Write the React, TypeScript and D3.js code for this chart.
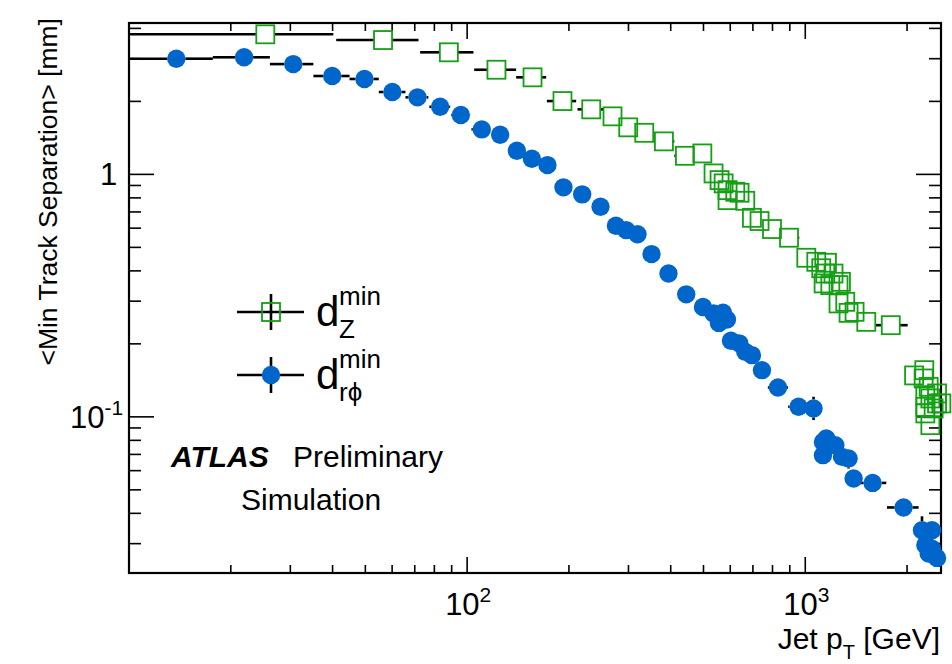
import React from "react";
import * as d3 from "d3";

// ---- d_rphi^min (blue filled circles) ----
const rphiPt = [13.8, 21.9, 30.6, 39.9, 49.7, 60.1, 71.3, 83.2, 95.8, 110.5, 125.2, 140.3, 155.4, 172.8, 192.7, 218.9, 248.0, 275.4, 295.3, 319.0, 351.0, 394.0, 444.6, 498.2, 535.5, 570.9, 586.7, 555.4, 602.9, 637.9, 664.5, 695.5, 744.6, 830.2, 955.4, 1058, 1128, 1154, 1128, 1227, 1284, 1343, 1390, 1582, 1953, 2214, 2371, 2265, 2371, 2453, 2317];
const rphiVal = [3.0, 3.04, 2.85, 2.545, 2.474, 2.186, 2.078, 1.9, 1.757, 1.533, 1.457, 1.251, 1.16, 1.092, 0.884, 0.827, 0.735, 0.614, 0.589, 0.566, 0.469, 0.39, 0.32, 0.284, 0.267, 0.269, 0.252, 0.244, 0.206, 0.201, 0.1854, 0.1797, 0.1558, 0.1322, 0.11, 0.1083, 0.0788, 0.0814, 0.0695, 0.0764, 0.0684, 0.0674, 0.0557, 0.0534, 0.0423, 0.0341, 0.0341, 0.0296, 0.0286, 0.0262, 0.0273];
const rphiPtLo = [10.0, 17.7, 26.1, 35.1, 44.9, 54.8, 65.7, 77.3, 89.7, 103, 125.2, 140.3, 155.4, 172.8, 192.7, 206, 248.0, 275.4, 295.3, 319.0, 351.0, 394.0, 444.6, 498.2, 535.5, 570.9, 586.7, 555.4, 602.9, 637.9, 664.5, 695.5, 744.6, 775, 890, 1058, 1128, 1154, 1128, 1227, 1284, 1343, 1390, 1438, 1744, 2214, 2371, 2265, 2371, 2453, 2317];
const rphiPtHi = [17.7, 26.1, 35.1, 44.9, 54.8, 65.7, 76.8, 89.1, 102, 117, 125.2, 140.3, 155.4, 172.8, 192.7, 218.9, 248.0, 275.4, 295.3, 319.0, 351.0, 394.0, 444.6, 498.2, 535.5, 570.9, 586.7, 555.4, 602.9, 637.9, 664.5, 695.5, 744.6, 889, 955.4, 1058, 1128, 1154, 1128, 1227, 1284, 1343, 1390, 1736, 2164, 2214, 2371, 2265, 2371, 2453, 2317];
const rphiValLo = [3.0, 3.04, 2.85, 2.545, 2.474, 2.186, 2.078, 1.9, 1.757, 1.533, 1.457, 1.251, 1.16, 1.092, 0.884, 0.827, 0.735, 0.614, 0.589, 0.566, 0.469, 0.39, 0.32, 0.284, 0.267, 0.269, 0.252, 0.244, 0.206, 0.201, 0.1854, 0.1797, 0.1558, 0.1322, 0.11, 0.097, 0.0788, 0.0814, 0.0695, 0.0764, 0.0684, 0.0612, 0.0557, 0.0534, 0.0423, 0.0341, 0.029, 0.0296, 0.0286, 0.0262, 0.0273];
const rphiValHi = [3.0, 3.04, 2.85, 2.545, 2.474, 2.186, 2.078, 1.9, 1.757, 1.533, 1.457, 1.251, 1.16, 1.092, 0.884, 0.827, 0.735, 0.614, 0.589, 0.566, 0.469, 0.39, 0.32, 0.284, 0.267, 0.269, 0.252, 0.244, 0.206, 0.201, 0.1854, 0.1797, 0.1558, 0.1322, 0.11, 0.121, 0.0788, 0.0814, 0.0695, 0.0764, 0.0684, 0.0674, 0.0557, 0.0534, 0.0423, 0.0389, 0.0341, 0.0296, 0.0286, 0.0262, 0.0273];

// ---- d_Z^min (green open squares) ----
const zPt = [25.3, 56.4, 88.3, 122.1, 156.1, 191.4, 232.8, 269.1, 299.5, 334.0, 381.9, 440.7, 496.1, 535.5, 557.9, 573.5, 589.0, 620.9, 639.2, 589.0, 664.5, 695.5, 732.4, 797.2, 895.1, 1007, 1078, 1159, 1115, 1146, 1212, 1275, 1133, 1186, 1254, 1254, 1313, 1343, 1399, 1515, 1790, 2249, 2098, 2239, 2317, 2453, 2265, 2344, 2526, 2265, 2397, 2265, 2344, 2453];
const zVal = [3.781, 3.581, 3.187, 2.701, 2.513, 2.006, 1.854, 1.735, 1.563, 1.484, 1.368, 1.193, 1.22, 1.009, 0.947, 0.918, 0.861, 0.848, 0.84, 0.783, 0.778, 0.662, 0.642, 0.595, 0.548, 0.453, 0.436, 0.432, 0.41, 0.39, 0.39, 0.3605, 0.3551, 0.3494, 0.3494, 0.2936, 0.2981, 0.2685, 0.2711, 0.2465, 0.2388, 0.1558, 0.1482, 0.144, 0.133, 0.1249, 0.1229, 0.1191, 0.1136, 0.11, 0.1083, 0.1033, 0.0924, 0.1136];
const zPtLo = [10.0, 41.0, 72.6, 104.9, 139.6, 172.1, 212.0, 255, 299.5, 334.0, 356, 410, 496.1, 535.5, 557.9, 573.5, 589.0, 620.9, 639.2, 589.0, 664.5, 695.5, 732.4, 797.2, 835, 1007, 1078, 1159, 1115, 1146, 1212, 1275, 1133, 1186, 1254, 1254, 1313, 1343, 1399, 1515, 1611, 2249, 2098, 2239, 2317, 2453, 2265, 2344, 2526, 2265, 2397, 2265, 2344, 2453];
const zPtHi = [40.2, 71.8, 104.4, 139.6, 171.3, 210.1, 253.2, 269.1, 299.5, 334.0, 410, 440.7, 496.1, 535.5, 557.9, 573.5, 589.0, 620.9, 639.2, 589.0, 664.5, 695.5, 732.4, 797.2, 960, 1007, 1078, 1159, 1115, 1146, 1212, 1275, 1133, 1186, 1254, 1254, 1313, 1343, 1399, 1515, 2008, 2249, 2098, 2239, 2317, 2453, 2265, 2344, 2526, 2265, 2397, 2265, 2344, 2453];

// ---- axis labels ----
const xTickLabels = [
  { value: 100, base: "10", exp: "2" },
  { value: 1000, base: "10", exp: "3" },
];
const yTickLabels = [
  { value: 1, base: "1", exp: "" },
  { value: 0.1, base: "10", exp: "-1" },
];
const xTitle = { main: "Jet p", sub: "T", rest: " [GeV]" };
const yTitle = "<Min Track Separation> [mm]";
const legendEntries = [
  { sup: "min", sub: "Z" },
  { sup: "min", sub: "rϕ" },
];

const W = 952;
const H = 664;
const FONT = "'Liberation Sans', Arial, Helvetica, sans-serif";
const BLUE = "#0066cc";
const GREEN = "#159f15";

const L = 129, R = 941, T = 23, B = 573;

export default function App() {
  const x = d3.scaleLog().domain([10, 2520]).range([L, R]);
  const y = d3.scaleLog().domain([0.0227, 4.21]).range([B, T]);

  const xTicks = x.ticks().filter((v) => v >= 10 && v <= 2520);
  const yTicks = y.ticks().filter((v) => v >= 0.0227 && v <= 4.21);
  const isMajor = (v: number) => Math.abs(Math.log10(v) - Math.round(Math.log10(v))) < 1e-6;

  const gap = 9;
  const errSegs = (
    pts: number[], vals: number[], plo: number[], phi: number[], vlo?: number[], vhi?: number[]
  ) => {
    const segs: JSX.Element[] = [];
    pts.forEach((p, i) => {
      const cx = x(p), cy = y(vals[i]);
      const xl = x(plo[i]), xh = x(phi[i]);
      if (cx - xl > gap) segs.push(<line key={`l${i}`} x1={xl} x2={cx - gap} y1={cy} y2={cy} />);
      if (xh - cx > gap) segs.push(<line key={`r${i}`} x1={cx + gap} x2={xh} y1={cy} y2={cy} />);
      if (vlo && vhi) {
        const yl = y(vlo[i]), yh = y(vhi[i]);
        if (yl - cy > gap) segs.push(<line key={`d${i}`} x1={cx} x2={cx} y1={cy + gap} y2={yl} />);
        if (cy - yh > gap) segs.push(<line key={`u${i}`} x1={cx} x2={cx} y1={yh} y2={cy - gap} />);
      }
    });
    return segs;
  };

  const legendRows = [312, 375];

  return (
    <svg width={W} height={H} style={{ position: "absolute", left: 0, top: 0, background: "#fff" }} fontFamily={FONT}>
      <rect x={0} y={0} width={W} height={H} fill="#fff" />
      {/* ticks */}
      <g stroke="#000" strokeWidth={1.6}>
        {xTicks.map((v) => {
          const len = isMajor(v) ? 16 : 8;
          return (
            <g key={`xt${v}`}>
              <line x1={x(v)} x2={x(v)} y1={B} y2={B - len} />
              <line x1={x(v)} x2={x(v)} y1={T} y2={T + len} />
            </g>
          );
        })}
        {yTicks.map((v) => {
          const len = isMajor(v) ? 25 : 12;
          return (
            <g key={`yt${v}`}>
              <line x1={L} x2={L + len} y1={y(v)} y2={y(v)} />
              <line x1={R} x2={R - len} y1={y(v)} y2={y(v)} />
            </g>
          );
        })}
      </g>
      {/* frame */}
      <rect x={L} y={T} width={R - L} height={B - T} fill="none" stroke="#000" strokeWidth={2.2} />

      {/* tick labels */}
      {xTickLabels.map((t) => (
        <text key={`xl${t.value}`} x={x(t.value) - 22} y={615} fontSize={31} fill="#000">
          {t.base}
          <tspan dy={-13} fontSize={21}>{t.exp}</tspan>
        </text>
      ))}
      {yTickLabels.map((t) => (
        <text key={`yl${t.value}`} x={t.exp ? 70 : 100} y={y(t.value) + 11} fontSize={31} fill="#000">
          {t.base}
          {t.exp ? <tspan dy={-13} fontSize={21}>{t.exp}</tspan> : null}
        </text>
      ))}

      {/* axis titles */}
      <text x={940} y={649} fontSize={30} textAnchor="end" fill="#000">
        {xTitle.main}
        <tspan dy={10} fontSize={20}>{xTitle.sub}</tspan>
        <tspan dy={-10}>{xTitle.rest}</tspan>
      </text>
      <text transform="translate(57,18) rotate(-90)" fontSize={26.5} textAnchor="end" fill="#000">
        {yTitle}
      </text>

      {/* error bars */}
      <g stroke="#000" strokeWidth={2.6}>
        {errSegs(rphiPt, rphiVal, rphiPtLo, rphiPtHi, rphiValLo, rphiValHi)}
        {errSegs(zPt, zVal, zPtLo, zPtHi)}
      </g>

      {/* markers */}
      <g fill={BLUE}>
        {rphiPt.map((p, i) => (
          <circle key={`b${i}`} cx={x(p)} cy={y(rphiVal[i])} r={9.2} />
        ))}
      </g>
      <g fill="none" stroke={GREEN} strokeWidth={1.8}>
        {zPt.map((p, i) => (
          <rect key={`g${i}`} x={x(p) - 9} y={y(zVal[i]) - 9} width={18} height={18} />
        ))}
      </g>

      {/* legend */}
      <g stroke="#000" strokeWidth={2.6}>
        {legendRows.map((ly) => (
          <g key={`le${ly}`}>
            <line x1={237} x2={304} y1={ly} y2={ly} />
            <line x1={271} x2={271} y1={ly - 18} y2={ly + 18} />
          </g>
        ))}
      </g>
      <rect x={262} y={legendRows[0] - 9} width={18} height={18} fill="none" stroke={GREEN} strokeWidth={1.8} />
      <circle cx={271} cy={legendRows[1]} r={9.2} fill={BLUE} />
      {legendEntries.map((e, i) => (
        <text key={`lt${i}`} x={316} y={legendRows[i] + 14} fontSize={42} fill="#000">
          d
          <tspan x={339} dy={-21} fontSize={26}>{e.sup}</tspan>
          <tspan x={339} dy={33} fontSize={26}>{e.sub}</tspan>
        </text>
      ))}

      {/* ATLAS label */}
      <text x={171} y={467} fontSize={30} fontWeight="bold" fontStyle="italic" fill="#000">ATLAS</text>
      <text x={293} y={467} fontSize={30} fill="#000">Preliminary</text>
      <text x={241} y={510} fontSize={30} fill="#000">Simulation</text>
    </svg>
  );
}
